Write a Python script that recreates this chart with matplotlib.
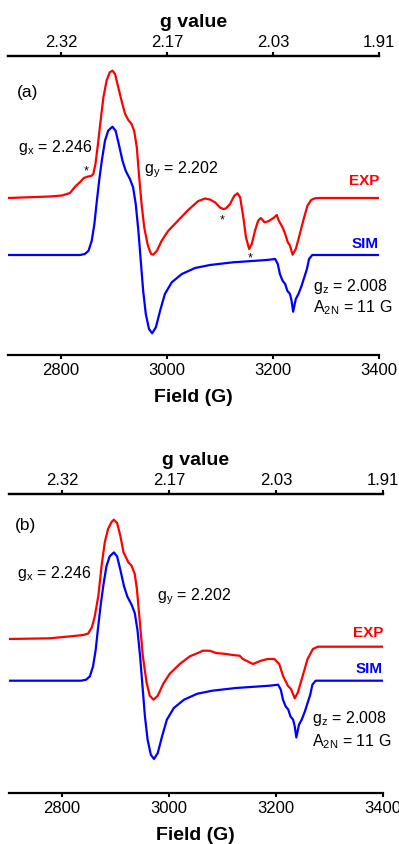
import numpy as np
import matplotlib.pyplot as plt

plt.rcParams['font.family'] = ['Liberation Sans', 'DejaVu Sans']
plt.rcParams['mathtext.fontset'] = 'custom'
plt.rcParams['mathtext.rm'] = 'Liberation Sans'
plt.rcParams['mathtext.it'] = 'Liberation Sans:italic'

# Field axis ticks and the matching g values (9.09 GHz)
field_ticks = [2800, 3000, 3200, 3400]
g_tick_labels = ['2.32', '2.17', '2.03', '1.91']

# Simulated spectrum (gx 2.246, gy 2.202, gz 2.008, A2N 11 G); same trace in both panels
field_sim = [2700, 2836, 2845, 2852, 2858, 2863, 2867, 2872, 2877, 2883, 2889, 2897,
             2903, 2909, 2916, 2922, 2930, 2936, 2941, 2946, 2951, 2955, 2960, 2966,
             2972, 2979, 2987, 2996, 3009, 3028, 3053, 3081, 3125, 3188, 3204, 3209,
             3213, 3218, 3223, 3227, 3232, 3235, 3238, 3243, 3248, 3254, 3259, 3264,
             3268, 3274, 3400]
int_sim = [0, 0, 1, 4.3, 14.3, 31, 51, 74.3, 94.3, 114.3, 124.3, 128.3,
           124.3, 111, 94.3, 84.3, 76, 67.7, 51, 24.3, -9, -35.7, -59, -74,
           -78.3, -72.3, -55.7, -39, -27.3, -19, -13, -10, -7.3, -5, -4, -9,
           -19, -25.7, -29, -35.7, -39, -45.7, -56.7, -44, -39, -30.7, -22.3, -14,
           -4, 0, 0]

# Panel (a): experimental spectrum (field in G, derivative intensity in a.u.)
field_a_exp = [2700, 2779, 2802, 2817, 2826, 2836, 2843, 2851, 2857, 2861, 2865, 2869,
               2874, 2880, 2886, 2892, 2897, 2902, 2908, 2915, 2921, 2927, 2933, 2938,
               2943, 2947, 2952, 2957, 2964, 2970, 2974, 2981, 2990, 3002, 3021, 3040,
               3059, 3072, 3081, 3091, 3100, 3106, 3111, 3119, 3127, 3133, 3138, 3144,
               3149, 3155, 3160, 3166, 3172, 3177, 3184, 3191, 3201, 3207, 3211, 3218,
               3223, 3228, 3232, 3237, 3243, 3249, 3257, 3265, 3272, 3279, 3289, 3400]
int_a_exp = [0, 1.5, 2.5, 5, 11, 16, 20, 21.5, 22, 24, 34, 50.7,
             74, 100.7, 117.3, 125.7, 127.3, 124, 110.7, 95.7, 84, 78, 74, 67.3,
             50.7, 24, -6, -29.3, -47.7, -56, -56.7, -52.7, -42.7, -33, -22.5, -12,
             -3, -0.5, -1.5, -4.5, -9.5, -11, -10.5, -6, 2.3, 4.7, 0.7, -19.3,
             -39.3, -51, -46, -32.7, -22.7, -20, -24.3, -23.3, -20, -17, -22.7, -29.3,
             -36, -44.3, -47.7, -56.7, -51, -39.3, -22.7, -7.7, -2, -0.3, 0, 0]

# Panel (b): experimental spectrum
field_b_exp = [2700, 2777, 2809, 2840, 2849, 2856, 2861, 2868, 2874, 2880, 2886, 2893,
               2897, 2903, 2909, 2915, 2924, 2930, 2936, 2940, 2945, 2951, 2958, 2964,
               2971, 2979, 2989, 3001, 3020, 3039, 3057, 3063, 3076, 3088, 3107, 3119,
               3132, 3138, 3157, 3172, 3184, 3197, 3206, 3213, 3222, 3228, 3235, 3241,
               3250, 3259, 3269, 3278, 3400]
int_b_exp = [0, 0.7, 2.3, 4, 5.5, 12, 22, 43.3, 73.3, 96.7, 110, 117.3,
             119.3, 116, 103.3, 86.7, 76.7, 73.3, 65, 50, 20, -16.7, -43.3, -56.7,
             -60.7, -56.7, -45, -35, -25, -17.3, -13.3, -11.7, -11.7, -14, -15, -16,
             -16.7, -20, -25, -21.7, -20, -20, -25, -36.7, -46.7, -50, -59.3, -53.3,
             -36.7, -20, -10, -7.7, -7.7]

RED = '#ff0000'
BLUE = '#0000ff'


def style_axes(ax, ylim):
    """Top/bottom spines only, field ticks below and g-value ticks above."""
    ax.set_xlim(2700, 3400)
    ax.set_ylim(*ylim)
    for side in ['left', 'right']:
        ax.spines[side].set_visible(False)
    for side in ['top', 'bottom']:
        ax.spines[side].set_linewidth(1.6)
    ax.set_yticks([])
    ax.set_xticks(field_ticks)
    ax.tick_params(axis='x', direction='out', length=3, width=1.5, pad=2, labelsize=12)
    ax.set_xlabel('Field (G)', fontsize=14, fontweight='bold', labelpad=8)

    top = ax.twiny()
    top.set_xlim(ax.get_xlim())
    for side in ['left', 'right', 'bottom']:
        top.spines[side].set_visible(False)
    top.spines['top'].set_linewidth(1.6)
    top.set_xticks(field_ticks)
    top.set_xticklabels(g_tick_labels)
    top.tick_params(axis='x', direction='out', length=3, width=1.5, pad=2, labelsize=12)
    top.set_xlabel('g value', fontsize=14, fontweight='bold', labelpad=6)


def draw_panel(ax, exp_f, exp_i, sim_f, sim_i, exp_base, sim_base):
    """Plot EXP and SIM traces stacked at their baselines."""
    ax.plot(exp_f, np.array(exp_i) + exp_base, color=RED, lw=1.6,
            solid_joinstyle='round', solid_capstyle='round')
    ax.plot(sim_f, np.array(sim_i) + sim_base, color=BLUE, lw=1.6,
            solid_joinstyle='round', solid_capstyle='round')


fig = plt.figure(figsize=(3.99, 8.45), dpi=100)

# ---- Panel (a) ----
ax_a = fig.add_axes([8 / 399, 1 - 356 / 845, 371 / 399, 299 / 845])
draw_panel(ax_a, field_a_exp, int_a_exp, field_sim, int_sim, -199, -256)
style_axes(ax_a, (-356, -57))
ax_a.text(2717, -92, '(a)', fontsize=12.5, va='center', ha='left')
ax_a.text(2719, -147, r'$\mathregular{g_x}$ = 2.246', fontsize=11.5, va='center')
ax_a.text(2957, -170, r'$\mathregular{g_y}$ = 2.202', fontsize=11.5, va='center')
for f, y in [(2847, -171), (3105, -220), (3157, -258)]:
    ax_a.text(f, y, '*', fontsize=9, ha='center', va='center')
ax_a.text(3400, -181, 'EXP', color=RED, fontsize=11, fontweight='bold', ha='right', va='center')
ax_a.text(3400, -244, 'SIM', color=BLUE, fontsize=11, fontweight='bold', ha='right', va='center')
ax_a.text(3275, -286, r'$\mathregular{g_z}$ = 2.008', fontsize=11.5, va='center')
ax_a.text(3275, -308, r'$\mathregular{A_{2N}}$ = 11 G', fontsize=11.5, va='center')

# ---- Panel (b) ----
ax_b = fig.add_axes([8.5 / 399, 1 - 794 / 845, 374.5 / 399, 299 / 845])
draw_panel(ax_b, field_b_exp, int_b_exp, field_sim, int_sim, -640, -681.7)
style_axes(ax_b, (-794, -495))
ax_b.text(2712, -526, '(b)', fontsize=12.5, va='center', ha='left')
ax_b.text(2716, -574, r'$\mathregular{g_x}$ = 2.246', fontsize=11.5, va='center')
ax_b.text(2977, -597, r'$\mathregular{g_y}$ = 2.202', fontsize=11.5, va='center')
ax_b.text(3400, -633, 'EXP', color=RED, fontsize=11, fontweight='bold', ha='right', va='center')
ax_b.text(3400, -669, 'SIM', color=BLUE, fontsize=11, fontweight='bold', ha='right', va='center')
ax_b.text(3268, -719, r'$\mathregular{g_z}$ = 2.008', fontsize=11.5, va='center')
ax_b.text(3268, -742, r'$\mathregular{A_{2N}}$ = 11 G', fontsize=11.5, va='center')

fig.savefig('out.png', dpi=100)
